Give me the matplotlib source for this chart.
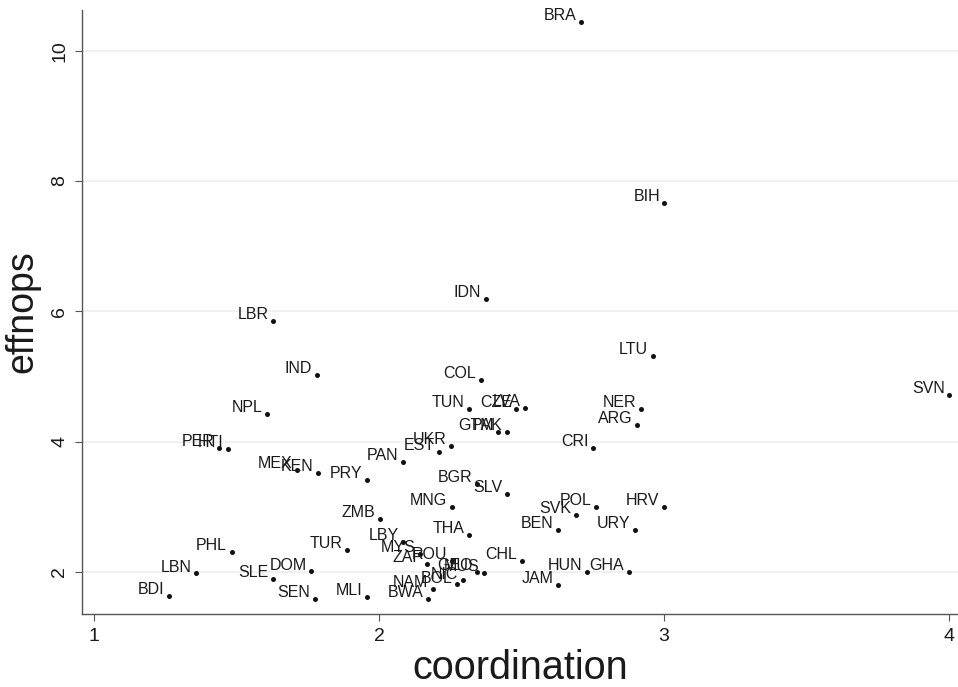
import matplotlib
matplotlib.use("Agg")
import matplotlib.pyplot as plt

plt.rcParams['font.family'] = ['Liberation Sans', 'DejaVu Sans']

# country codes, x = coordination, y = effnops
countries = ['BRA', 'BIH', 'IDN', 'LBR', 'LTU', 'IND', 'COL', 'SVN', 'TUN', 'CZE',
             'LVA', 'NER', 'NPL', 'ARG', 'GTM', 'PAK', 'UKR', 'PER', 'HTI', 'CRI',
             'EST', 'PAN', 'MEX', 'KEN', 'PRY', 'BGR', 'SLV', 'MNG', 'POL', 'HRV',
             'SVK', 'ZMB', 'URY', 'BEN', 'THA', 'LBY', 'TUR', 'PHL', 'MYS', 'CHL',
             'ROU', 'ZAF', 'DOM', 'HUN', 'GHA', 'GEO', 'MUS', 'LBN', 'SLE', 'NIC',
             'BOL', 'JAM', 'NAM', 'BDI', 'MLI', 'SEN', 'BWA']
coordination = [2.710, 3.002, 2.375, 1.628, 2.960, 1.782, 2.358, 4.001, 2.316, 2.482,
                2.512, 2.919, 1.607, 2.907, 2.419, 2.451, 2.253, 1.440, 1.472, 2.752,
                2.212, 2.085, 1.712, 1.785, 1.959, 2.344, 2.450, 2.256, 2.762, 3.001,
                2.690, 2.004, 2.898, 2.627, 2.315, 2.086, 1.889, 1.483, 2.144, 2.502,
                2.256, 2.170, 1.762, 2.731, 2.876, 2.345, 2.368, 1.358, 1.628, 2.294,
                2.275, 2.628, 2.189, 1.264, 1.959, 1.774, 2.171]
effnops = [10.436, 7.667, 6.189, 5.851, 5.309, 5.022, 4.945, 4.715, 4.505, 4.505,
           4.515, 4.505, 4.424, 4.259, 4.143, 4.143, 3.937, 3.902, 3.893, 3.897,
           3.835, 3.691, 3.564, 3.513, 3.410, 3.349, 3.191, 2.996, 2.996, 2.991,
           2.878, 2.812, 2.648, 2.638, 2.562, 2.459, 2.343, 2.312, 2.282, 2.167,
           2.167, 2.126, 2.006, 1.999, 2.000, 1.998, 1.982, 1.976, 1.894, 1.868,
           1.807, 1.799, 1.738, 1.626, 1.620, 1.581, 1.585]

xticks = [1, 2, 3, 4]
yticks = [2, 4, 6, 8, 10]

fig = plt.figure(figsize=(9.58, 6.87), dpi=100)
ax = fig.add_axes([0.0856, 0.1063, 0.9144, 0.8791])

ax.scatter(coordination, effnops, s=13, color='#111111', zorder=3, linewidths=0)
for c, x, y in zip(countries, coordination, effnops):
    ax.annotate(c, (x, y), xytext=(-3.3, 1.4), textcoords='offset points',
                ha='right', va='baseline', fontsize=11.5, color='#1a1a1a', zorder=4)

ax.set_xlim(0.958, 4.032)
ax.set_ylim(1.354, 10.625)
ax.set_xticks(xticks)
ax.set_yticks(yticks)
ax.set_xticklabels([str(t) for t in xticks], fontsize=14)
ax.set_yticklabels([str(t) for t in yticks], fontsize=14, rotation=90, va='center')

ax.grid(axis='y', color='#eeeeee', linewidth=1.2)
ax.set_axisbelow(True)
for s in ['top', 'right']:
    ax.spines[s].set_visible(False)
for s in ['left', 'bottom']:
    ax.spines[s].set_color('#555555')
    ax.spines[s].set_linewidth(1.0)
ax.tick_params(direction='out', length=5, color='#555555', labelcolor='#1a1a1a')
ax.tick_params(axis='x', pad=5)
ax.tick_params(axis='y', pad=5)

ax.set_xlabel('coordination', fontsize=28.5, color='#1a1a1a', labelpad=3)
ax.set_ylabel('effnops', fontsize=27, color='#1a1a1a', labelpad=8)

fig.savefig('out.png', dpi=100, facecolor='white')
